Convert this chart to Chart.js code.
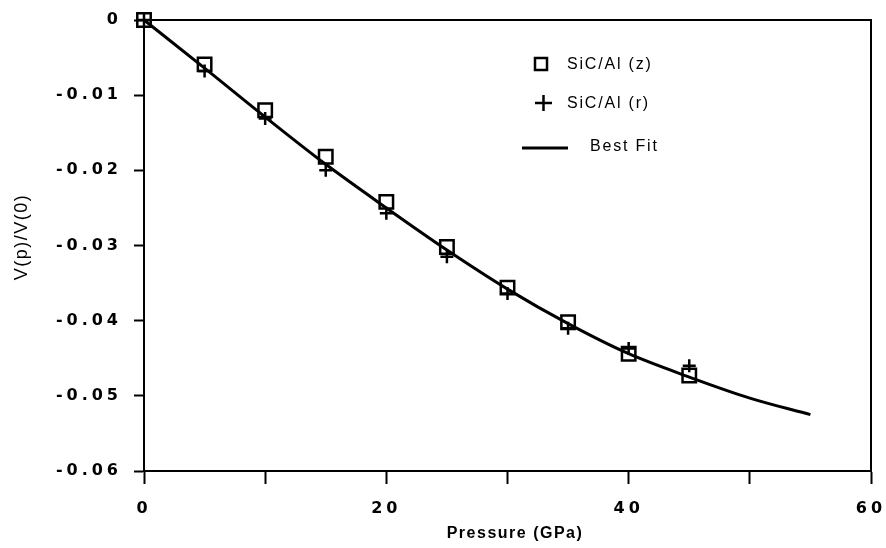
<!DOCTYPE html>
<html>
<head>
<meta charset="utf-8">
<script src="https://cdn.jsdelivr.net/npm/chart.js@4.4.1/dist/chart.umd.min.js"></script>
<style>
    html, body { margin: 0; padding: 0; background: #fff; }
    #wrap { width: 886px; height: 548px; }
</style>
</head>
<body>
<div id="wrap"><canvas id="chart" width="886" height="548"></canvas></div>
<script>
// Measured volume ratio vs pressure
const pressure = [0, 5, 10, 15, 20, 25, 30, 35, 40, 45];
const sicAlZ = [0, -0.0059, -0.0120, -0.0182, -0.0242, -0.0302, -0.0356, -0.0402, -0.0444, -0.0473];
const sicAlR = [0, -0.0068, -0.0131, -0.0200, -0.0257, -0.0315, -0.0364, -0.0410, -0.0437, -0.0460];

// Best fit curve
const fitPressure = [0, 5, 10, 15, 20, 25, 30, 35, 40, 45, 50, 55];
const fitRatio = [0, -0.0064, -0.0129, -0.0192, -0.0250, -0.0306, -0.0358, -0.0404, -0.0444, -0.0475, -0.0503, -0.0525];

const xTicks = [0, 10, 20, 30, 40, 50, 60];
const yTicks = [0, -0.01, -0.02, -0.03, -0.04, -0.05, -0.06];

const legendItems = ['SiC/Al (z)', 'SiC/Al (r)', 'Best Fit'];
const xTitle = 'Pressure (GPa)';
const yTitle = 'V(p)/V(0)';

const toPoints = (xs, ys) => xs.map((x, i) => ({ x: x, y: ys[i] }));

// Frame, axis titles and legend
const decorations = {
    id: 'decorations',
    beforeDraw(chart) {
        chart.ctx.letterSpacing = '4px';
    },
    afterDraw(chart) {
        const ctx = chart.ctx;
        const area = chart.chartArea;
        ctx.save();
        ctx.strokeStyle = '#000';
        ctx.lineWidth = 2;
        ctx.beginPath();
        ctx.moveTo(area.left, area.top);
        ctx.lineTo(area.right, area.top);
        ctx.lineTo(area.right, area.bottom);
        ctx.stroke();

        ctx.fillStyle = '#000';
        ctx.textBaseline = 'middle';

        // x title
        ctx.letterSpacing = '1.5px';
        ctx.font = 'bold 16px "Liberation Sans", Arial, sans-serif';
        ctx.textAlign = 'center';
        ctx.fillText(xTitle, 515, 534);

        // y title
        ctx.save();
        ctx.translate(22, 237);
        ctx.rotate(-Math.PI / 2);
        ctx.font = '18px "Liberation Sans", Arial, sans-serif';
        ctx.letterSpacing = '1.5px';
        ctx.fillText(yTitle, 0, 0);
        ctx.restore();

        // legend
        ctx.font = '16px "Liberation Sans", Arial, sans-serif';
        ctx.letterSpacing = '1.8px';
        ctx.textAlign = 'left';
        ctx.lineWidth = 2.5;
        ctx.strokeRect(535, 58, 12, 12);
        ctx.fillText(legendItems[0], 567, 65);

        ctx.beginPath();
        ctx.moveTo(535, 103);
        ctx.lineTo(552, 103);
        ctx.moveTo(543.5, 95);
        ctx.lineTo(543.5, 111);
        ctx.stroke();
        ctx.fillText(legendItems[1], 567, 104);

        ctx.lineWidth = 3;
        ctx.beginPath();
        ctx.moveTo(522, 148);
        ctx.lineTo(568, 148);
        ctx.stroke();
        ctx.fillText(legendItems[2], 590, 147);
        ctx.restore();
    }
};

const tickFont = { family: '"DejaVu Sans", sans-serif', size: 16, weight: 'bold' };

new Chart(document.getElementById('chart'), {
    type: 'scatter',
    data: {
        datasets: [
            {
                label: 'Best Fit',
                data: toPoints(fitPressure, fitRatio),
                showLine: true,
                borderColor: '#000',
                borderWidth: 3,
                pointRadius: 0,
                cubicInterpolationMode: 'monotone',
                clip: false
            },
            {
                label: 'SiC/Al (z)',
                data: toPoints(pressure, sicAlZ),
                pointStyle: 'rect',
                pointRadius: 9.5,
                borderColor: '#000',
                backgroundColor: 'rgba(0,0,0,0)',
                borderWidth: 2.5,
                clip: false
            },
            {
                label: 'SiC/Al (r)',
                data: toPoints(pressure, sicAlR),
                pointStyle: 'cross',
                pointRadius: 6.5,
                borderColor: '#000',
                borderWidth: 2.5,
                clip: false
            }
        ]
    },
    options: {
        responsive: false,
        animation: false,
        events: [],
        layout: {
            autoPadding: false,
            padding: { top: 20, right: 15, left: 0, bottom: 0 }
        },
        scales: {
            x: {
                type: 'linear',
                min: 0,
                max: 60,
                afterFit: (scale) => {
                    scale.height = 77;
                    scale.paddingLeft = 0;
                    scale.paddingRight = 0;
                },
                afterBuildTicks: (scale) => { scale.ticks = xTicks.map(v => ({ value: v })); },
                grid: {
                    drawOnChartArea: false,
                    drawTicks: true,
                    tickLength: 13,
                    tickWidth: 2,
                    tickColor: '#000'
                },
                border: { color: '#000', width: 2 },
                ticks: {
                    color: '#000',
                    padding: 15,
                    maxRotation: 0,
                    font: tickFont,
                    callback: (v) => (v % 20 === 0 ? String(v) : '')
                }
            },
            y: {
                type: 'linear',
                min: -0.06,
                max: 0,
                afterFit: (scale) => {
                    scale.width = 144;
                    scale.paddingTop = 0;
                    scale.paddingBottom = 0;
                },
                afterBuildTicks: (scale) => { scale.ticks = yTicks.map(v => ({ value: v })); },
                grid: {
                    drawOnChartArea: false,
                    drawTicks: true,
                    tickLength: 10,
                    tickWidth: 2,
                    tickColor: '#000'
                },
                border: { color: '#000', width: 2 },
                ticks: {
                    color: '#000',
                    padding: 12,
                    font: tickFont,
                    callback: (v) => (v === 0 ? '0' : v.toFixed(2))
                }
            }
        },
        plugins: {
            legend: { display: false },
            tooltip: { enabled: false }
        }
    },
    plugins: [decorations]
});
</script>
</body>
</html>
